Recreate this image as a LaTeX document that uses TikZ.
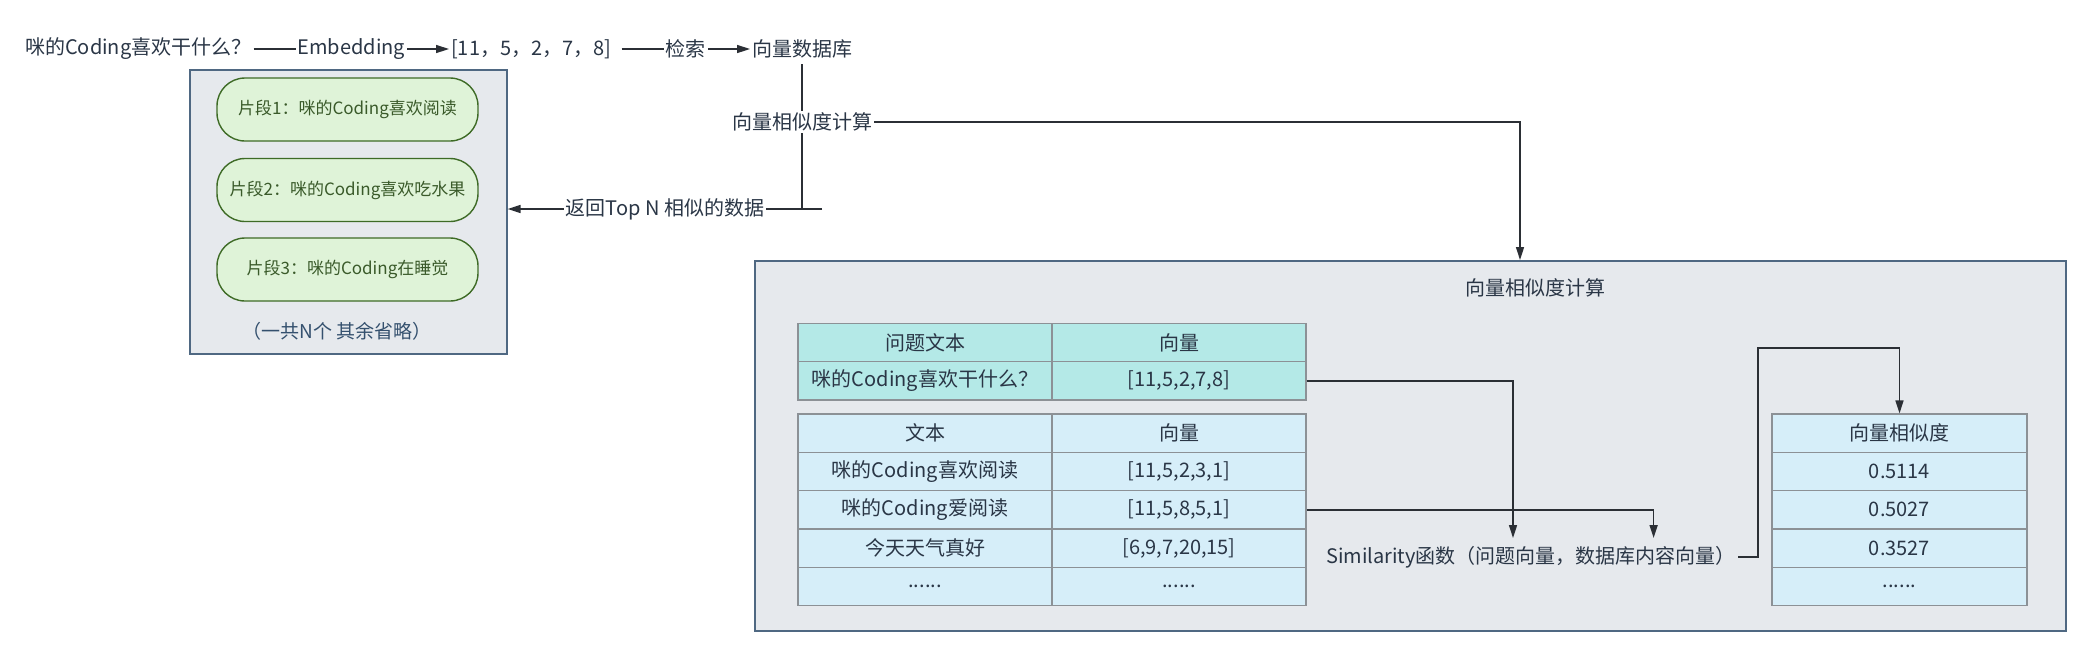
\documentclass[tikz,border=0pt]{standalone}
\usepackage{fontspec}
\setmainfont{Noto Sans CJK SC}
\usetikzlibrary{arrows.meta}
\definecolor{ink}{HTML}{2A3646}
\definecolor{linec}{HTML}{2B2F35}
\definecolor{boxfill}{HTML}{E6E9ED}
\definecolor{slate}{HTML}{4F6882}
\definecolor{pillfill}{HTML}{DFF3D8}
\definecolor{pillborder}{HTML}{3E6B26}
\definecolor{pilltext}{HTML}{3A5A2A}
\definecolor{cyanfill}{HTML}{B4E9E7}
\definecolor{bluefill}{HTML}{D6EEF9}
\definecolor{cellborder}{HTML}{8C9196}
\definecolor{notetext}{HTML}{34506E}
\begin{document}
\begin{tikzpicture}[x=1pt,y=1pt,
  txt/.style={font=\fontsize{20}{23}\selectfont, text=ink, inner sep=2pt},
  lbl/.style={txt, fill=white, inner sep=2pt},
  ln/.style={draw=linec, line width=1.5pt},
  arr/.style={draw=linec, line width=1.5pt, -{Triangle[length=13pt,width=8pt]}},
  grpbox/.style={draw=slate, fill=boxfill, line width=1.6pt, inner sep=0pt},
  pill/.style={draw=pillborder, fill=pillfill, rounded corners=28pt, line width=1.4pt,
    minimum width=261pt, minimum height=63pt, text=pilltext, font=\fontsize{17}{20}\selectfont},
  cell/.style={draw=cellborder, line width=1.3pt, minimum width=254pt, minimum height=38.3pt,
    inner sep=0pt, text=ink, font=\fontsize{20}{23}\selectfont},
  cellq/.style={cell, fill=cyanfill},
  cellb/.style={cell, fill=bluefill}
]
\useasboundingbox (0,0) rectangle (2089,-657);

% top row
\node[txt, anchor=west] (q) at (23,-49) {咪的Coding喜欢干什么？};
\node[txt, anchor=west] (vec) at (449,-49) {[11，5，2，7，8]};
\node[txt, anchor=west] (db) at (750,-49) {向量数据库};
\draw[arr] (q.east) -- node[lbl]{Embedding} (vec.west);
\draw[arr] ([xshift=8pt]vec.east) -- node[lbl]{检索} (db.west);

% left group box
\node[grpbox, minimum width=317pt, minimum height=284pt, anchor=north west] (left) at (189,-69) {};
\node[pill] (p1) at (347.5,-109.5) {片段1：咪的Coding喜欢阅读};
\node[pill] (p2) at (347.5,-190) {片段2：咪的Coding喜欢吃水果};
\node[pill] (p3) at (347.5,-269.5) {片段3：咪的Coding在睡觉};
\node[txt, text=notetext, font=\fontsize{19}{22}\selectfont] (note) at (337,-331) {（一共N个 其余省略）};

% vertical connector with label
\coordinate (j) at (802,-209);
\coordinate (jr) at (822,-209);
\draw[ln] ([yshift=-4pt]db.south -| j) -- (j);
\node[lbl] (calc) at (802,-122) {向量相似度计算};
\draw[arr] (jr) -- node[lbl]{返回Top N 相似的数据} (left.east |- jr);

% big box
\node[grpbox, minimum width=1311pt, minimum height=370pt, anchor=north west] (big) at (754,-260) {};
\coordinate (bt) at (1520,-260);
\draw[arr] (calc.east) -| (bt);
\node[txt] (title) at (1535,-288) {向量相似度计算};

% table 1
\node[cellq] (q11) at (925,-342.5) {问题文本};
\node[cellq] (q12) at (1179,-342.5) {向量};
\node[cellq] (q21) at (925,-380.8) {咪的Coding喜欢干什么？};
\node[cellq] (q22) at (1179,-380.8) {[11,5,2,7,8]};

% table 2
\node[cellb] (b11) at (925,-433.2) {文本};
\node[cellb] (b12) at (1179,-433.2) {向量};
\node[cellb] (b21) at (925,-471.5) {咪的Coding喜欢阅读};
\node[cellb] (b22) at (1179,-471.5) {[11,5,2,3,1]};
\node[cellb] (b31) at (925,-509.8) {咪的Coding爱阅读};
\node[cellb] (b32) at (1179,-509.8) {[11,5,8,5,1]};
\node[cellb] (b41) at (925,-548.2) {今天天气真好};
\node[cellb] (b42) at (1179,-548.2) {[6,9,7,20,15]};
\node[cellb] (b51) at (925,-586.5) {......};
\node[cellb] (b52) at (1179,-586.5) {......};

% table 3
\node[cellb, minimum width=255pt] (c0) at (1899.5,-433.2) {向量相似度};
\node[cellb, minimum width=255pt] (c1) at (1899.5,-471.5) {0.5114};
\node[cellb, minimum width=255pt] (c2) at (1899.5,-509.8) {0.5027};
\node[cellb, minimum width=255pt] (c3) at (1899.5,-548.2) {0.3527};
\node[cellb, minimum width=255pt] (c4) at (1899.5,-586.5) {......};

% similarity function
\node[txt] (sim) at (1531,-557) {Similarity函数（问题向量，数据库内容向量）};
\coordinate (s1) at (1513,-538);
\coordinate (s2) at (1653.6,-538);
\draw[arr] (q22.east) -| (s1);
\draw[arr] (b32.east) -| (s2);
\coordinate (k) at (1758,-348);
\draw[arr] (sim.east) -| (k) -| (c0.north);
\end{tikzpicture}
\end{document}
